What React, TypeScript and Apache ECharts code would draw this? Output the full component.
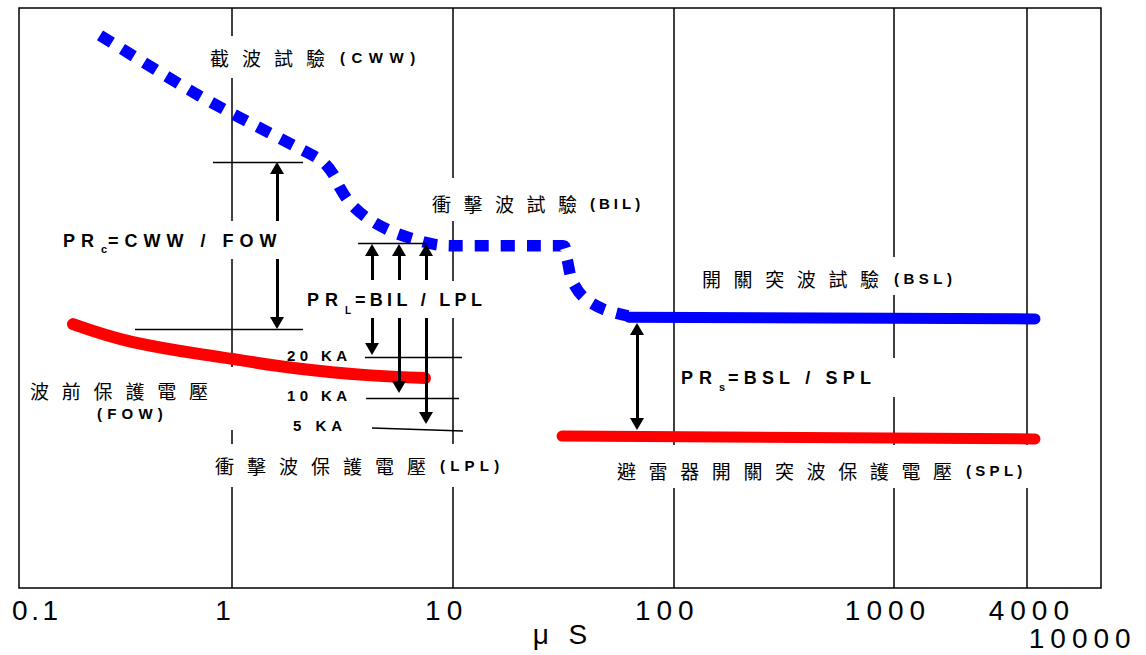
import React, { useEffect, useRef } from "react";
import * as echarts from "echarts";

// ---------- axis ----------
const X_MIN = 0.1;
const X_MAX = 10000;
const Y_MIN = 0;
const Y_MAX = 100;
const xTicks = [0.1, 1, 10, 100, 1000, 10000];
const xTickLabels = ["0.1", "1", "10", "100", "1000", "10000"];
const gridTicks = [1, 10, 100, 1000, 4000];
const extraTickValue = 4000;
const extraTickLabel = "4000";
const xAxisName = "μ S";

// ---------- series (x in μs, y in relative voltage) ----------
// blue dashed: CWW -> BIL -> transition to BSL
const testWaveX = [0.2522, 0.716, 1.971, 2.5575, 2.869, 3.086, 3.425, 4.09, 5.2, 6.61, 8.76, 10.8, 31.6, 33.0, 34.7, 39.0, 48.0, 62.3];
const testWaveY = [95.3, 84.8, 76.0, 73.6, 71.4, 69.0, 66.4, 63.8, 61.6, 60.2, 59.1, 59.0, 59.0, 56.7, 53.1, 50.2, 48.1, 46.9];
// blue solid: BSL
const bslX = [62.95, 4354];
const bslY = [46.7, 46.4];
// red: FOW
const fowX = [0.1903, 0.3559, 1.0, 2.033, 4.09, 7.49];
const fowY = [45.5, 42.4, 39.5, 37.8, 36.7, 36.2];
// red: SPL
const splX = [31.3, 4354];
const splY = [26.2, 25.7];

// ---------- annotation lines ----------
const levelLines = [
  [[0.8201, 73.45], [2.0977, 73.45]],
  [[0.3634, 44.66], [2.0977, 44.66]],
  [[3.7238, 59.48], [7.6508, 59.48]],
  [[4.0049, 39.83], [11.023, 39.83]],
  [[4.047, 32.76], [10.683, 32.76]],
  [[4.3103, 27.59], [11.139, 27.07]],
];
const arrowLines = [
  [[1.5995, 63.28], [1.5995, 72.41]],
  [[1.5995, 56.72], [1.5995, 45.69]],
  [[4.3103, 53.1], [4.3103, 58.28]],
  [[5.7125, 53.1], [5.7125, 58.28]],
  [[7.5714, 53.1], [7.5714, 58.28]],
  [[4.3103, 46.55], [4.3103, 41.21]],
  [[5.7125, 46.55], [5.7125, 34.66]],
  [[7.5714, 46.55], [7.5714, 29.31]],
];
const doubleArrow = [[68.44, 44.66], [68.44, 28.28]];

// ---------- texts ----------
const LATIN = "'Liberation Sans', Arial, sans-serif";
const CJK = "'Noto Sans CJK TC', 'Noto Sans CJK SC', sans-serif";

type T = { text: string; x: number; y: number; size: number; bold?: boolean; cjk?: boolean; ls: number };
const texts: T[] = [
  { text: "截波試驗", x: 210, y: 57, size: 19, cjk: true, ls: 13 },
  { text: "(CWW)", x: 340, y: 57, size: 15, bold: true, ls: 6.5 },
  { text: "PR", x: 63, y: 241, size: 18, bold: true, ls: 6 },
  { text: "c", x: 101, y: 249, size: 11, bold: true, ls: 0 },
  { text: "=CWW / FOW", x: 108, y: 241, size: 18, bold: true, ls: 6 },
  { text: "衝擊波試驗", x: 432, y: 203, size: 19, cjk: true, ls: 12.5 },
  { text: "(BIL)", x: 590, y: 203, size: 15, bold: true, ls: 4 },
  { text: "PR", x: 307, y: 300, size: 18, bold: true, ls: 6 },
  { text: "L", x: 345, y: 310, size: 10, bold: true, ls: 0 },
  { text: "=BIL / LPL", x: 355, y: 300, size: 18, bold: true, ls: 4.3 },
  { text: "開關突波試驗", x: 702, y: 278, size: 19, cjk: true, ls: 12.6 },
  { text: "(BSL)", x: 894, y: 278, size: 15, bold: true, ls: 4.5 },
  { text: "20 KA", x: 287, y: 355, size: 15, bold: true, ls: 4.4 },
  { text: "10 KA", x: 287, y: 395, size: 15, bold: true, ls: 4.4 },
  { text: "5 KA", x: 293, y: 425, size: 15, bold: true, ls: 5 },
  { text: "波前保護電壓", x: 30, y: 390, size: 19, cjk: true, ls: 12.8 },
  { text: "(FOW)", x: 97, y: 413, size: 15, bold: true, ls: 5.2 },
  { text: "衝擊波保護電壓", x: 215, y: 465, size: 19, cjk: true, ls: 13 },
  { text: "(LPL)", x: 440, y: 465, size: 15, bold: true, ls: 5.2 },
  { text: "PR", x: 681, y: 378, size: 18, bold: true, ls: 6 },
  { text: "s", x: 719, y: 387, size: 11, bold: true, ls: 0 },
  { text: "=BSL / SPL", x: 728, y: 378, size: 18, bold: true, ls: 5.2 },
  { text: "避雷器開關突波保護電壓", x: 617, y: 470, size: 19, cjk: true, ls: 12.6 },
  { text: "(SPL)", x: 966, y: 470, size: 15, bold: true, ls: 4.3 },
];

// white text boxes that interrupt the grid lines
const boxes = [
  [198, 36, 230, 42],
  [55, 221, 238, 38],
  [424, 178, 224, 43],
  [300, 281, 192, 37],
  [692, 257, 268, 38],
  [675, 358, 224, 39],
  [605, 445, 432, 43],
  [205, 444, 300, 43],
  [21, 367, 213, 63],
];

const spacing: Record<string, number> = {};
texts.forEach((t) => (spacing[t.text] = t.ls));
xTickLabels.forEach((l) => (spacing[l] = l === "0.1" ? 3.5 : 6));
spacing[extraTickLabel] = 6;
spacing[xAxisName] = 6;

const pairs = (a: number[], b: number[]) => a.map((x, i) => [x, b[i]]);

function buildOption(): any {
  const labelFor = (v: number) => {
    let best = 0;
    xTicks.forEach((t, i) => {
      if (Math.abs(Math.log10(t) - Math.log10(v)) < Math.abs(Math.log10(xTicks[best]) - Math.log10(v))) best = i;
    });
    return best;
  };
  const axisFont = { fontSize: 28, fontFamily: LATIN, color: "#000" };
  return {
    animation: false,
    backgroundColor: "#fff",
    grid: { left: 11.33, right: 31.33, top: 8, bottom: 67, containLabel: false, outerBoundsMode: "none" },
    xAxis: {
      type: "log",
      logBase: 10,
      min: X_MIN,
      max: X_MAX,
      axisLine: { show: false },
      axisTick: { show: false },
      splitLine: { show: false },
      axisLabel: {
        show: true,
        margin: 8,
        ...axisFont,
        padding: [0, 12, 0, 0],
        showMinLabel: true,
        showMaxLabel: true,
        formatter: (v: number) => {
          const i = labelFor(v);
          if (i === 0) return "{a|" + xTickLabels[i] + "}";
          if (i === xTicks.length - 1) return "{b|" + xTickLabels[i] + "}";
          return xTickLabels[i];
        },
        rich: {
          a: { ...axisFont, padding: [0, 0, 0, 63] },
          b: { ...axisFont, padding: [28, 52, 0, 0] },
        },
      },
      name: xAxisName,
      nameLocation: "middle",
      nameGap: 32,
      nameMoveOverlap: false,
      nameTextStyle: axisFont,
    },
    yAxis: { type: "value", min: Y_MIN, max: Y_MAX, show: false },
    graphic: [
      {
        type: "rect",
        z: 6,
        silent: true,
        shape: { x: 19, y: 8, width: 1082, height: 580 },
        style: { fill: "none", stroke: "#000", lineWidth: 1.5 },
      },
      ...boxes.map(([x, y, w, h]) => ({
        type: "rect",
        z: 10,
        silent: true,
        shape: { x, y, width: w, height: h },
        style: { fill: "#fff" },
      })),
      ...texts.map((t) => ({
        type: "text",
        z: 11,
        silent: true,
        x: t.x,
        y: t.y,
        style: {
          text: t.text,
          fill: "#000",
          fontSize: t.size,
          fontWeight: t.bold ? "bold" : "normal",
          fontFamily: t.cjk ? CJK : LATIN,
          align: "left",
          verticalAlign: "middle",
        },
      })),
    ],
    series: [
      {
        type: "line",
        data: [],
        silent: true,
        markLine: {
          silent: true,
          z: 1,
          symbol: ["none", "none"],
          emphasis: { disabled: true },
          label: { show: false },
          lineStyle: { color: "#000", width: 1.5, type: "solid" },
          data: gridTicks.map((v) =>
            v === extraTickValue
              ? {
                  xAxis: v,
                  label: {
                    show: true,
                    position: "start",
                    formatter: extraTickLabel,
                    distance: 8,
                    padding: [0, 0, 0, 10],
                    ...axisFont,
                  },
                }
              : { xAxis: v }
          ),
        },
      },
      {
        name: "CWW-BIL",
        type: "line",
        z: 3,
        silent: true,
        data: pairs(testWaveX, testWaveY),
        showSymbol: false,
        smooth: 0.3,
        lineStyle: { color: "#0000ff", width: 11.5, type: [14, 12], cap: "butt" },
      },
      {
        name: "BSL",
        type: "line",
        z: 3,
        silent: true,
        data: pairs(bslX, bslY),
        showSymbol: false,
        lineStyle: { color: "#0000ff", width: 11, cap: "round" },
      },
      {
        name: "FOW",
        type: "line",
        z: 3,
        silent: true,
        data: pairs(fowX, fowY),
        showSymbol: false,
        smooth: 0.4,
        lineStyle: { color: "#ff0000", width: 12, cap: "round" },
      },
      {
        name: "SPL",
        type: "line",
        z: 3,
        silent: true,
        data: pairs(splX, splY),
        showSymbol: false,
        lineStyle: { color: "#ff0000", width: 11, cap: "round" },
      },
      {
        type: "line",
        data: [],
        silent: true,
        markLine: {
          silent: true,
          z: 4,
          symbol: ["none", "none"],
          emphasis: { disabled: true },
          label: { show: false },
          lineStyle: { color: "#000", width: 1.3, type: "solid" },
          data: [
            ...levelLines.map(([a, b]) => [
              { coord: a, symbol: "none" },
              { coord: b, symbol: "none" },
            ]),
            ...arrowLines.map(([a, b]) => [
              { coord: a, symbol: "none", lineStyle: { width: 3, color: "#000" } },
              { coord: b, symbol: "triangle", symbolSize: [14, 12] },
            ]),
            [
              { coord: doubleArrow[0], symbol: "triangle", symbolSize: [14, 12], lineStyle: { width: 3, color: "#000" } },
              { coord: doubleArrow[1], symbol: "triangle", symbolSize: [14, 12] },
            ],
          ],
        },
      },
    ],
  };
}

export default function App() {
  const ref = useRef<HTMLDivElement>(null);
  useEffect(() => {
    const el = ref.current;
    if (!el) return;
    const chart = echarts.init(el, null, { renderer: "svg" });
    const apply = () => {
      el.querySelectorAll("text").forEach((t) => {
        const key = (t.textContent || "").trim();
        if (Object.prototype.hasOwnProperty.call(spacing, key)) {
          (t as SVGTextElement).style.letterSpacing = spacing[key] + "px";
        }
      });
    };
    chart.on("finished", apply);
    chart.setOption(buildOption());
    apply();
    const id = window.setTimeout(apply, 30);
    return () => {
      window.clearTimeout(id);
      chart.dispose();
    };
  }, []);
  return (
    <div
      ref={ref}
      style={{ position: "fixed", left: 0, top: 0, width: 1146, height: 655, background: "#fff" }}
    />
  );
}
